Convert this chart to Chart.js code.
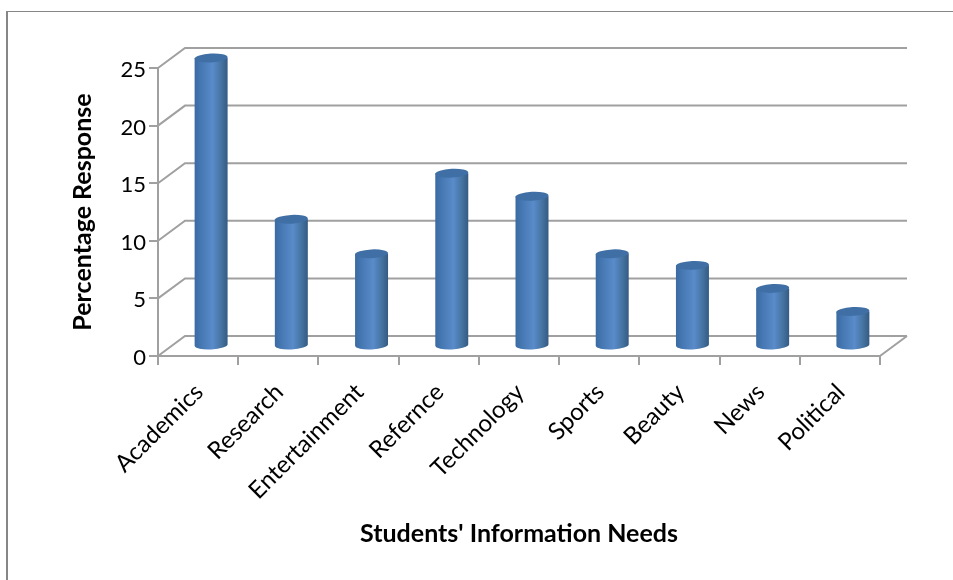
<!DOCTYPE html>
<html>
<head>
<meta charset="utf-8">
<style>html,body{margin:0;padding:0;background:#fff}#w{width:953px;height:580px;position:relative}</style>
<script src="https://cdn.jsdelivr.net/npm/chart.js@4"></script>
</head>
<body>
<div id="w"><canvas id="c" width="953" height="580"></canvas></div>
<script>
const categories = ["Academics","Research","Entertainment","Refernce","Technology","Sports","Beauty","News","Political"];
const responses = [25,11,8,15,13,8,7,5,3];
const yTicks = [0,5,10,15,20,25];
const xTitle = "Students' Information Needs";
const yTitle = "Percentage Response";

const WALL = {dx:27, dy:-20};
const GRID = '#a0a0a0';
const FONT = 'Lato, "Open Sans", sans-serif';

const frame = {
  id:'frame',
  beforeDraw(chart){
    const c = chart.ctx;
    c.save();
    c.fillStyle = '#868686';
    c.fillRect(6,11,2,569);
    c.fillRect(6,11,947,1);
    c.restore();
  }
};

const walls = {
  id:'walls',
  beforeDatasetsDraw(chart){
    const c = chart.ctx, {x,y} = chart.scales;
    const l = x.left, r = x.right;
    c.save();
    c.strokeStyle = GRID; c.lineWidth = 2;
    yTicks.forEach(v=>{
      const p = y.getPixelForValue(v);
      c.beginPath();
      c.moveTo(l,p);
      c.lineTo(l+WALL.dx,p+WALL.dy);
      c.lineTo(r+WALL.dx,p+WALL.dy);
      c.stroke();
    });
    const b = y.getPixelForValue(0);
    c.beginPath();
    c.moveTo(r,b);
    c.lineTo(r+WALL.dx,b+WALL.dy);
    c.stroke();
    c.restore();
  }
};

const cylinders = {
  id:'cylinders',
  beforeDatasetDraw(chart,args){
    const c = chart.ctx;
    const dx = 13, dy = -10, ry = 4.4, tilt = -0.05;
    args.meta.data.forEach(bar=>{
      const p = bar.getProps(['x','y','base','width'],true);
      const cx = p.x+dx, rx = p.width/2;
      const top = p.y+dy, bot = p.base+dy;
      const g = c.createLinearGradient(cx-rx,0,cx+rx,0);
      g.addColorStop(0,'#3a6aa2');
      g.addColorStop(0.2,'#4678b3');
      g.addColorStop(0.55,'#5a8bca');
      g.addColorStop(0.82,'#44729f');
      g.addColorStop(1,'#355a84');
      c.save();
      c.fillStyle = g;
      c.beginPath();
      c.ellipse(cx,bot,rx,ry,tilt,0,Math.PI);
      c.lineTo(cx-rx,top);
      c.lineTo(cx+rx,top);
      c.closePath();
      c.fill();
      c.fillStyle = '#3f6fa4';
      c.beginPath();
      c.ellipse(cx,top,rx,ry,tilt,0,Math.PI*2);
      c.fill();
      c.restore();
    });
    return false;
  }
};

new Chart(document.getElementById('c'),{
  type:'bar',
  data:{labels:categories,datasets:[{data:responses,backgroundColor:'#4f81bd',barThickness:33}]},
  plugins:[frame,walls,cylinders],
  options:{
    responsive:false,
    animation:false,
    layout:{padding:{top:68,right:73,left:0,bottom:0}},
    plugins:{legend:{display:false},tooltip:{enabled:false}},
    scales:{
      x:{
        afterFit(s){s.height=224;},
        grid:{drawOnChartArea:false,color:GRID,lineWidth:2,tickLength:9},
        border:{color:GRID,width:2},
        ticks:{color:'#000',font:{family:FONT,size:24},minRotation:45,maxRotation:45,padding:13,labelOffset:1,autoSkip:false},
        title:{display:true,text:xTitle,color:'#000',font:{family:FONT,size:25,weight:'bold'},padding:{top:0,bottom:31}}
      },
      y:{
        min:0,max:25,
        afterFit(s){s.width=158;},
        afterBuildTicks(s){s.ticks=yTicks.map(v=>({value:v}));},
        grid:{drawOnChartArea:false,color:GRID,lineWidth:2,tickLength:9},
        border:{color:GRID,width:2},
        ticks:{color:'#000',font:{family:FONT,size:22},padding:3,labelOffset:2},
        title:{display:true,text:yTitle,color:'#000',font:{family:FONT,size:25,weight:'bold'},padding:{top:68,bottom:0}}
      }
    }
  }
});
</script>
</body>
</html>
